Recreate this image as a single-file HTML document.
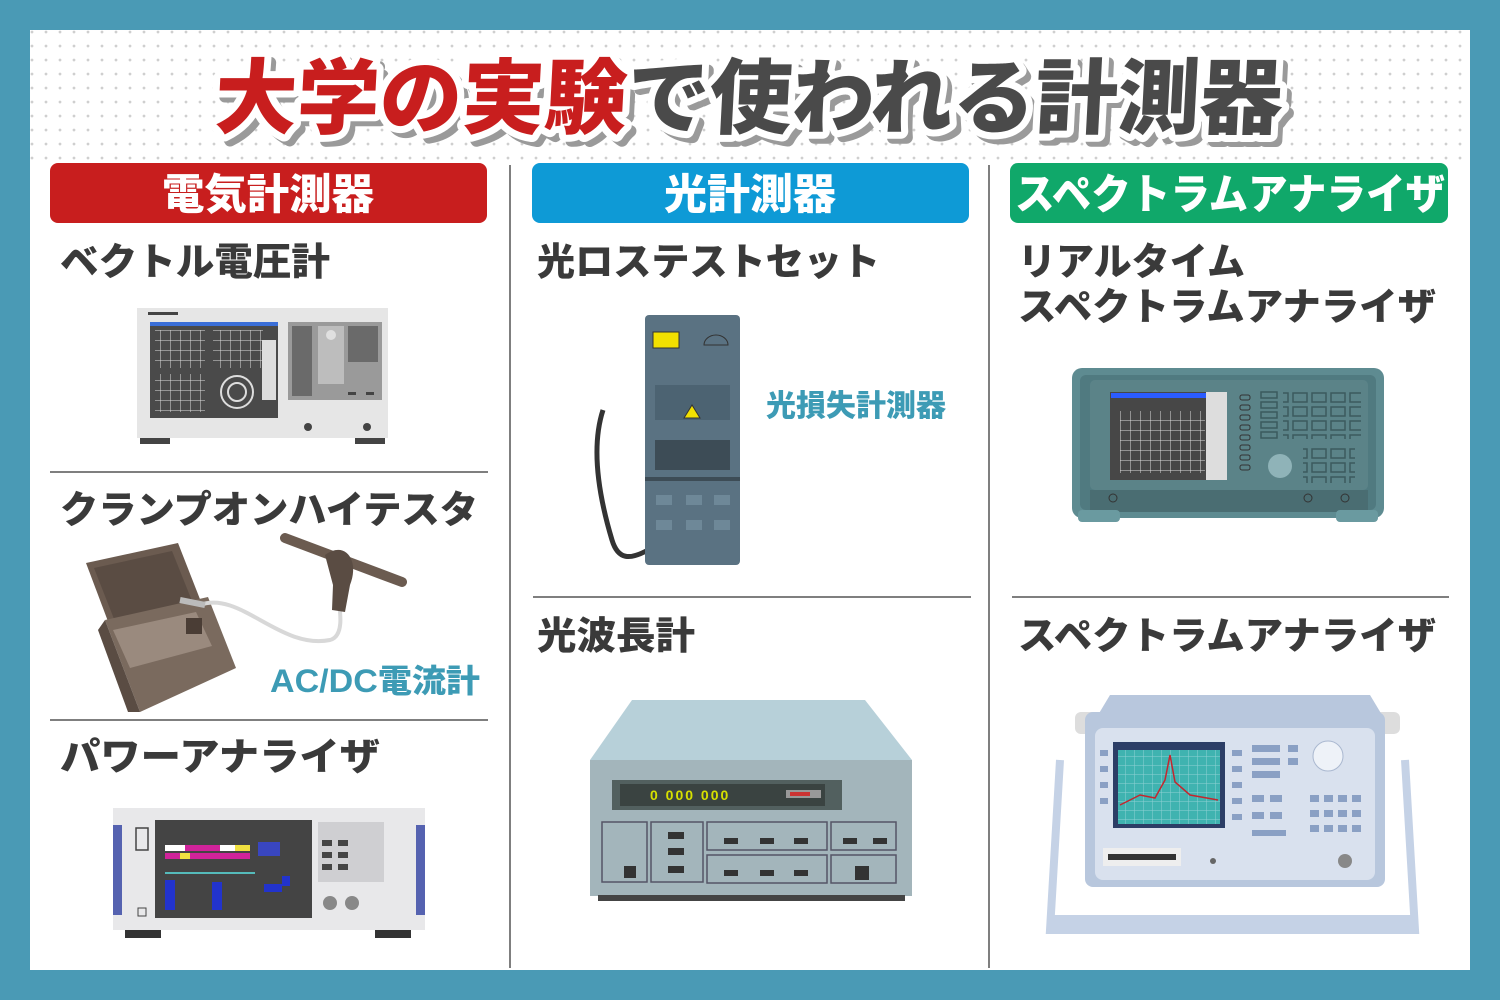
<!DOCTYPE html>
<html><head><meta charset="utf-8"><style>
html,body{margin:0;padding:0;background:#4a9ab5;}
svg{display:block}
text{font-family:"Liberation Sans","Noto Sans CJK JP",sans-serif;font-weight:900;}
</style></head><body>
<svg width="1500" height="1000" viewBox="0 0 1500 1000" xmlns="http://www.w3.org/2000/svg">
<defs>
<pattern id="dots" width="14" height="14" patternUnits="userSpaceOnUse"><circle cx="4" cy="4" r="1.4" fill="#cfcfcf"/></pattern>
<pattern id="grid" width="10" height="10" patternUnits="userSpaceOnUse"><path d="M10 0H0V10" fill="none" stroke="#ddd" stroke-width="1"/></pattern>
<pattern id="grid2" width="9" height="9" patternUnits="userSpaceOnUse"><path d="M9 0H0V9" fill="none" stroke="#8fd0d4" stroke-width="1"/></pattern>
<pattern id="btn" width="19" height="14" patternUnits="userSpaceOnUse"><rect x="1" y="1" width="14" height="9" fill="none" stroke="#3b5a5e" stroke-width="1.5"/></pattern>
</defs>
<rect x="0" y="0" width="1500" height="1000" fill="#4a9ab5"/>
<rect x="30" y="30" width="1440" height="940" fill="#fff"/>
<rect x="30" y="30" width="1440" height="132" fill="url(#dots)"/>

<!-- title -->
<g transform="translate(755,0) skewX(-3) translate(-755,0)">
<text x="226" y="133" font-size="82" textLength="1068" lengthAdjust="spacingAndGlyphs" fill="#9a9a9a" stroke="#9a9a9a" stroke-width="12" stroke-linejoin="round">大学の実験で使われる計測器</text>
<text x="220" y="127" font-size="82" textLength="1068" lengthAdjust="spacingAndGlyphs" fill="#fff" stroke="#fff" stroke-width="14" stroke-linejoin="round">大学の実験で使われる計測器</text>
<text x="220" y="127" font-size="82" textLength="1068" lengthAdjust="spacingAndGlyphs"><tspan fill="#c81e1e">大学の実験</tspan><tspan fill="#4a4a4a">で使われる計測器</tspan></text>
</g>

<!-- headers -->
<rect x="50" y="163" width="437" height="60" rx="8" fill="#c81e1e"/>
<rect x="532" y="163" width="437" height="60" rx="8" fill="#0e9ad6"/>
<rect x="1010" y="163" width="438" height="60" rx="8" fill="#10a86a"/>
<text x="268" y="209" font-size="42" fill="#fff" text-anchor="middle" textLength="212" lengthAdjust="spacingAndGlyphs">電気計測器</text>
<text x="750" y="209" font-size="42" fill="#fff" text-anchor="middle" textLength="172" lengthAdjust="spacingAndGlyphs">光計測器</text>
<text x="1015" y="209" font-size="42" fill="#fff" textLength="430" lengthAdjust="spacingAndGlyphs">スペクトラムアナライザ</text>

<!-- dividers -->
<line x1="510" y1="165" x2="510" y2="968" stroke="#555" stroke-width="1.5"/>
<line x1="989" y1="165" x2="989" y2="968" stroke="#555" stroke-width="1.5"/>
<line x1="50" y1="472" x2="488" y2="472" stroke="#555" stroke-width="1.5"/>
<line x1="50" y1="720" x2="488" y2="720" stroke="#555" stroke-width="1.5"/>
<line x1="533" y1="597" x2="971" y2="597" stroke="#555" stroke-width="1.5"/>
<line x1="1012" y1="597" x2="1449" y2="597" stroke="#555" stroke-width="1.5"/>

<!-- labels -->
<g fill="#3a3a3a" font-size="38">
<text x="60" y="275" textLength="270" lengthAdjust="spacingAndGlyphs">ベクトル電圧計</text>
<text x="60" y="523" textLength="418" lengthAdjust="spacingAndGlyphs">クランプオンハイテスタ</text>
<text x="60" y="770" textLength="320" lengthAdjust="spacingAndGlyphs">パワーアナライザ</text>
<text x="537" y="275" textLength="343" lengthAdjust="spacingAndGlyphs">光ロステストセット</text>
<text x="537" y="649" textLength="158" lengthAdjust="spacingAndGlyphs">光波長計</text>
<text x="1018" y="275" textLength="227" lengthAdjust="spacingAndGlyphs">リアルタイム</text>
<text x="1018" y="320" textLength="418" lengthAdjust="spacingAndGlyphs">スペクトラムアナライザ</text>
<text x="1018" y="649" textLength="418" lengthAdjust="spacingAndGlyphs">スペクトラムアナライザ</text>
</g>
<text x="766" y="416" font-size="30" fill="#3d9bb5" textLength="180" lengthAdjust="spacingAndGlyphs">光損失計測器</text>
<text x="270" y="692" font-size="32" fill="#3d9bb5" textLength="210" lengthAdjust="spacingAndGlyphs">AC/DC電流計</text>

<!-- vector voltmeter -->
<rect x="140" y="436" width="30" height="8" fill="#444"/><rect x="355" y="436" width="30" height="8" fill="#444"/>
<rect x="137" y="308" width="251" height="130" fill="#e6e6e6"/>
<rect x="148" y="312" width="30" height="3" fill="#444"/>
<rect x="150" y="322" width="128" height="96" fill="#4a4a4a"/>
<rect x="150" y="322" width="128" height="4" fill="#3b6fd8"/>
<rect x="155" y="330" width="50" height="38" fill="url(#grid)"/><rect x="213" y="330" width="50" height="38" fill="url(#grid)"/>
<rect x="155" y="374" width="50" height="38" fill="url(#grid)"/>
<circle cx="237" cy="392" r="16" fill="none" stroke="#ddd" stroke-width="2"/><circle cx="237" cy="392" r="9" fill="none" stroke="#ddd" stroke-width="2"/>
<rect x="262" y="340" width="14" height="60" fill="#ddd"/>
<rect x="288" y="322" width="94" height="78" fill="#9a9a9a"/>
<rect x="292" y="326" width="20" height="70" fill="#555" opacity=".7"/>
<rect x="318" y="326" width="26" height="58" fill="#bdbdbd"/><circle cx="331" cy="335" r="5" fill="#e0e0e0"/>
<rect x="348" y="326" width="30" height="36" fill="#555" opacity=".7"/>
<circle cx="308" cy="427" r="4" fill="#444"/><circle cx="367" cy="427" r="4" fill="#444"/>
<rect x="348" y="392" width="8" height="3" fill="#444"/><rect x="366" y="392" width="8" height="3" fill="#444"/>

<!-- clamp tester -->
<polygon points="86,563 178,543 205,612 112,632" fill="#6b5b50"/>
<polygon points="94,568 172,551 194,606 116,624" fill="#5a4c43"/>
<polygon points="105,620 208,597 236,668 140,712" fill="#7a6a5e"/>
<polygon points="105,620 140,712 128,712 98,630" fill="#5a4c43"/>
<polygon points="113,630 196,612 212,646 130,668" fill="#9a8a7e"/>
<rect x="186" y="618" width="16" height="16" fill="#4a3d35"/>
<path d="M200 605 C240 590 280 650 330 640 C345 636 340 610 338 595" fill="none" stroke="#d8d8d8" stroke-width="4"/>
<path d="M180 600 L205 605" stroke="#bbb" stroke-width="6"/>
<line x1="285" y1="538" x2="402" y2="582" stroke="#6b5b50" stroke-width="10" stroke-linecap="round"/>
<path d="M325 555 C345 540 360 560 350 585 L345 612 L332 610 L333 585 Z" fill="#5a4c43"/>

<!-- power analyzer -->
<rect x="125" y="928" width="36" height="10" fill="#333"/><rect x="375" y="928" width="36" height="10" fill="#333"/>
<rect x="113" y="808" width="312" height="122" fill="#e8e8ea"/>
<rect x="113" y="825" width="9" height="90" fill="#5562b0"/><rect x="416" y="825" width="9" height="90" fill="#5562b0"/>
<rect x="136" y="828" width="12" height="22" fill="none" stroke="#444" stroke-width="1.5"/>
<rect x="138" y="908" width="8" height="8" fill="none" stroke="#444"/>
<rect x="155" y="820" width="157" height="98" fill="#444"/>
<rect x="165" y="845" width="70" height="6" fill="#fff"/><rect x="185" y="845" width="35" height="6" fill="#d0239a"/>
<rect x="165" y="853" width="85" height="6" fill="#d0239a"/><rect x="180" y="853" width="10" height="6" fill="#f0e040"/>
<rect x="235" y="845" width="15" height="6" fill="#f0e040"/>
<rect x="258" y="842" width="22" height="14" fill="#3946c0"/>
<rect x="165" y="872" width="90" height="2" fill="#5bb"/>
<rect x="165" y="880" width="10" height="30" fill="#2233cc"/><rect x="212" y="882" width="10" height="28" fill="#2233cc"/>
<rect x="264" y="884" width="18" height="8" fill="#2233cc"/><rect x="282" y="876" width="8" height="10" fill="#2233cc"/>
<rect x="318" y="822" width="66" height="60" fill="#cfcfd2"/>
<g fill="#444"><rect x="322" y="840" width="10" height="6"/><rect x="338" y="840" width="10" height="6"/><rect x="322" y="852" width="10" height="6"/><rect x="338" y="852" width="10" height="6"/><rect x="322" y="864" width="10" height="6"/><rect x="338" y="864" width="10" height="6"/></g>
<circle cx="330" cy="903" r="7" fill="#888"/><circle cx="352" cy="903" r="7" fill="#888"/>

<!-- optical loss test set -->
<path d="M603 410 C590 450 600 500 612 540 C618 560 630 560 648 550" fill="none" stroke="#333" stroke-width="5"/>
<rect x="645" y="315" width="95" height="250" rx="4" fill="#5a7282"/>
<rect x="653" y="332" width="26" height="16" fill="#f2e000" stroke="#333"/>
<path d="M704 345 a12 10 0 0 1 24 0 z" fill="none" stroke="#333"/>
<polygon points="655,385 730,385 730,420 655,420" fill="#4c6372"/>
<polygon points="692,405 684,418 700,418" fill="#f2e000" stroke="#333"/>
<rect x="655" y="440" width="75" height="30" fill="#3d4c56"/>
<rect x="645" y="477" width="95" height="4" fill="#3d4c56"/>
<g fill="#6e8898"><rect x="656" y="495" width="16" height="10"/><rect x="686" y="495" width="16" height="10"/><rect x="714" y="495" width="16" height="10"/><rect x="656" y="520" width="16" height="10"/><rect x="686" y="520" width="16" height="10"/><rect x="714" y="520" width="16" height="10"/></g>

<!-- wavelength meter -->
<polygon points="590,760 632,700 865,700 912,760" fill="#b7d0d9"/>
<rect x="590" y="760" width="322" height="136" fill="#a3b5bb"/>
<rect x="598" y="895" width="307" height="6" fill="#444"/>
<rect x="612" y="780" width="230" height="30" fill="#52605f"/>
<rect x="620" y="784" width="205" height="22" fill="#3a4341"/>
<text x="650" y="800" font-size="14" fill="#d6e000" font-weight="400" letter-spacing="2">0 000 000</text>
<rect x="786" y="790" width="35" height="8" fill="#999"/><rect x="790" y="792" width="20" height="4" fill="#c33"/>
<g fill="none" stroke="#556" stroke-width="1.5">
<rect x="602" y="822" width="45" height="60"/><rect x="651" y="822" width="52" height="60"/><rect x="707" y="822" width="120" height="28"/><rect x="707" y="855" width="120" height="28"/><rect x="831" y="822" width="65" height="28"/><rect x="831" y="855" width="65" height="28"/>
</g>
<g fill="#333"><rect x="624" y="866" width="12" height="12"/><rect x="668" y="832" width="16" height="7"/><rect x="668" y="848" width="16" height="7"/><rect x="668" y="866" width="16" height="7"/><rect x="724" y="838" width="14" height="6"/><rect x="760" y="838" width="14" height="6"/><rect x="794" y="838" width="14" height="6"/><rect x="724" y="870" width="14" height="6"/><rect x="760" y="870" width="14" height="6"/><rect x="794" y="870" width="14" height="6"/><rect x="843" y="838" width="14" height="6"/><rect x="873" y="838" width="14" height="6"/><rect x="855" y="866" width="14" height="14"/></g>

<!-- realtime spectrum analyzer -->
<rect x="1072" y="368" width="312" height="150" rx="10" fill="#5e8b91"/>
<rect x="1080" y="375" width="296" height="135" rx="6" fill="#507a80"/>
<rect x="1090" y="380" width="278" height="110" rx="5" fill="#5b8388"/>
<rect x="1090" y="490" width="278" height="22" fill="#4a6d72"/>
<rect x="1078" y="510" width="42" height="12" rx="4" fill="#6a9aa0"/><rect x="1336" y="510" width="42" height="12" rx="4" fill="#6a9aa0"/>
<rect x="1110" y="392" width="117" height="88" fill="#474747"/>
<rect x="1111" y="393" width="95" height="5" fill="#2b5cff"/>
<rect x="1120" y="411" width="85" height="62" fill="url(#grid)"/>
<rect x="1206" y="392" width="21" height="88" fill="#ddd"/>
<g fill="none" stroke="#333" stroke-width="1"><rect x="1240" y="395" width="10" height="5" rx="2"/><rect x="1240" y="405" width="10" height="5" rx="2"/><rect x="1240" y="415" width="10" height="5" rx="2"/><rect x="1240" y="425" width="10" height="5" rx="2"/><rect x="1240" y="435" width="10" height="5" rx="2"/><rect x="1240" y="445" width="10" height="5" rx="2"/><rect x="1240" y="455" width="10" height="5" rx="2"/><rect x="1240" y="465" width="10" height="5" rx="2"/></g>
<g fill="none" stroke="#3b5a5e" stroke-width="1.5"><rect x="1261" y="392" width="16" height="6"/><rect x="1261" y="402" width="16" height="6"/><rect x="1261" y="412" width="16" height="6"/><rect x="1261" y="422" width="16" height="6"/><rect x="1261" y="432" width="16" height="6"/></g>
<rect x="1283" y="391" width="78" height="48" fill="url(#btn)"/>
<circle cx="1280" cy="466" r="12" fill="#8fb3b8"/>
<rect x="1303" y="447" width="52" height="36" fill="url(#btn)" transform="translate(0,0)"/>
<circle cx="1113" cy="498" r="4" fill="none" stroke="#333"/><circle cx="1308" cy="498" r="4" fill="none" stroke="#333"/><circle cx="1345" cy="498" r="4" fill="none" stroke="#333"/>

<!-- spectrum analyzer -->
<path d="M1060 760 L1050 930 L1415 930 L1405 760" fill="none" stroke="#c5d2e6" stroke-width="8"/>
<rect x="1048" y="915" width="370" height="18" fill="#c5d2e6"/>
<rect x="1075" y="712" width="45" height="22" rx="6" fill="#ddd"/><rect x="1355" y="712" width="45" height="22" rx="6" fill="#ddd"/>
<polygon points="1098,715 1110,695 1370,695 1382,715" fill="#b8c7dd"/>
<rect x="1085" y="712" width="300" height="175" rx="8" fill="#b8c7dd"/>
<rect x="1095" y="728" width="280" height="152" rx="8" fill="#d9e1ee"/>
<rect x="1113" y="742" width="112" height="86" fill="#2c3e66"/>
<rect x="1118" y="750" width="102" height="74" fill="#3fb3b0"/>
<rect x="1118" y="750" width="102" height="74" fill="url(#grid2)"/>
<path d="M1120 805 L1140 795 L1155 798 L1165 780 L1170 755 L1175 782 L1190 795 L1218 800" fill="none" stroke="#c4262e" stroke-width="1.5"/>
<g fill="#8aa0c4"><rect x="1100" y="750" width="8" height="6"/><rect x="1100" y="766" width="8" height="6"/><rect x="1100" y="782" width="8" height="6"/><rect x="1100" y="798" width="8" height="6"/><rect x="1232" y="750" width="10" height="6"/><rect x="1232" y="766" width="10" height="6"/><rect x="1232" y="782" width="10" height="6"/><rect x="1232" y="798" width="10" height="6"/><rect x="1232" y="814" width="10" height="6"/>
<rect x="1252" y="745" width="28" height="7"/><rect x="1252" y="758" width="28" height="7"/><rect x="1252" y="771" width="28" height="7"/><rect x="1288" y="745" width="10" height="7"/><rect x="1288" y="758" width="10" height="7"/>
<rect x="1252" y="795" width="12" height="7"/><rect x="1270" y="795" width="12" height="7"/><rect x="1252" y="812" width="12" height="7"/><rect x="1270" y="812" width="12" height="7"/><rect x="1252" y="830" width="34" height="6"/>
<rect x="1310" y="795" width="9" height="7"/><rect x="1324" y="795" width="9" height="7"/><rect x="1338" y="795" width="9" height="7"/><rect x="1352" y="795" width="9" height="7"/><rect x="1310" y="810" width="9" height="7"/><rect x="1324" y="810" width="9" height="7"/><rect x="1338" y="810" width="9" height="7"/><rect x="1352" y="810" width="9" height="7"/><rect x="1310" y="825" width="9" height="7"/><rect x="1324" y="825" width="9" height="7"/><rect x="1338" y="825" width="9" height="7"/><rect x="1352" y="825" width="9" height="7"/></g>
<circle cx="1328" cy="756" r="15" fill="#eef2f8" stroke="#aab8d0"/>
<rect x="1103" y="848" width="78" height="18" fill="#eee"/><rect x="1108" y="854" width="68" height="6" fill="#333"/>
<circle cx="1213" cy="861" r="3" fill="#666"/><circle cx="1345" cy="861" r="7" fill="#888"/>
</svg>
</body></html>
